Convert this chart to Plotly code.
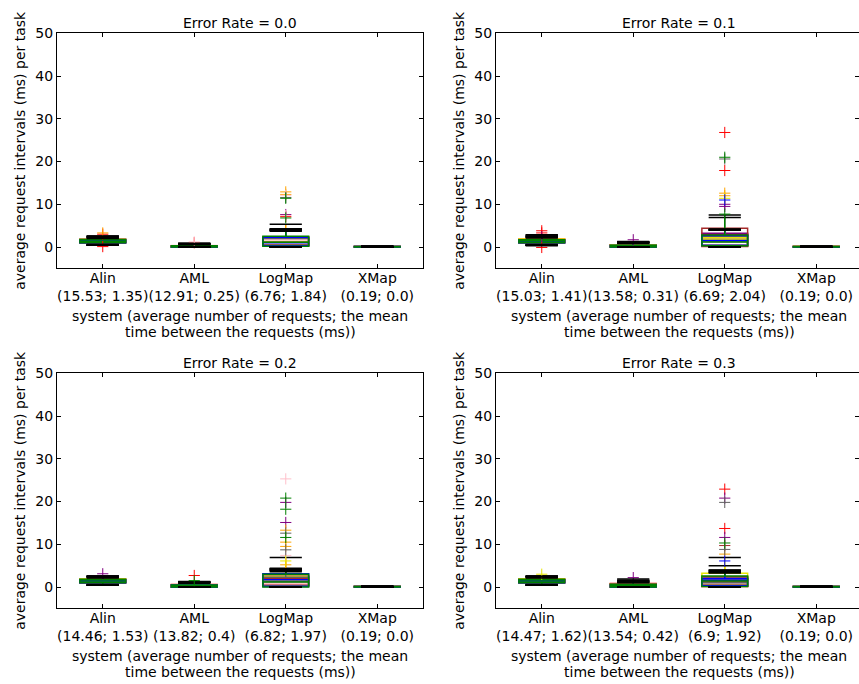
import plotly.graph_objects as go

# ---------------- data ----------------
SYSTEMS = ["Alin", "AML", "LogMap", "XMap"]
ERROR_RATES = ["0.0", "0.1", "0.2", "0.3"]
AVG_REQUESTS = [
    [15.53, 12.91, 6.76, 0.19],
    [15.03, 13.58, 6.69, 0.19],
    [14.46, 13.82, 6.82, 0.19],
    [14.47, 13.54, 6.9, 0.19],
]
MEAN_INTERVAL = [
    [1.35, 0.25, 1.84, 0.0],
    [1.41, 0.31, 2.04, 0.0],
    [1.53, 0.4, 1.97, 0.0],
    [1.62, 0.42, 1.92, 0.0],
]
Y_TICKS = [0, 10, 20, 30, 40, 50]

# tasks (one box per task and system), drawn in this order
TASK_COLORS = ["#ff0000", "#800080", "#ffa500", "#ffc0cb", "#a52a2a",
               "#e6e600", "#606060", "#0000ff", "#008000"]

# box statistics: [error rate][system][task]
Q1 = [
    [[1.1, 1.0, 1.2, 1.1, 1.0, 1.2, 1.1, 1.0, 1.0],
     [0.0, 0.0, 0.0, 0.0, 0.0, 0.0, 0.0, 0.0, 0.0],
     [0.4, 0.3, 0.4, 0.3, 0.4, 0.3, 0.4, 0.3, 0.2],
     [0.0, 0.0, 0.0, 0.0, 0.0, 0.0, 0.0, 0.0, 0.0]],
    [[1.1, 1.0, 1.2, 1.1, 1.0, 1.1, 1.1, 1.0, 1.0],
     [0.0, 0.0, 0.0, 0.0, 0.0, 0.0, 0.0, 0.0, 0.0],
     [0.3, 0.4, 0.3, 0.4, 0.1, 0.4, 0.3, 0.4, 0.3],
     [0.0, 0.0, 0.0, 0.0, 0.0, 0.0, 0.0, 0.0, 0.0]],
    [[1.1, 1.0, 1.2, 1.1, 1.0, 1.2, 1.1, 1.0, 1.0],
     [0.0, 0.0, 0.0, 0.0, 0.0, 0.0, 0.0, 0.0, 0.0],
     [0.5, 0.4, 0.3, 0.6, 0.4, 0.3, 0.3, 0.1, 0.0],
     [0.0, 0.0, 0.0, 0.0, 0.0, 0.0, 0.0, 0.0, 0.0]],
    [[1.1, 1.0, 1.2, 1.1, 1.0, 1.1, 1.1, 1.0, 1.0],
     [0.0, 0.0, 0.0, 0.0, 0.0, 0.0, 0.0, 0.0, 0.0],
     [0.1, 0.3, 0.4, 0.3, 0.2, 0.3, 0.4, 0.3, 0.1],
     [0.0, 0.0, 0.0, 0.0, 0.0, 0.0, 0.0, 0.0, 0.0]],
]
MEDIAN = [
    [[1.4, 1.3, 1.5, 1.4, 1.3, 1.4, 1.4, 1.3, 1.35],
     [0.1, 0.1, 0.15, 0.1, 0.1, 0.1, 0.1, 0.1, 0.1],
     [1.2, 1.1, 1.3, 1.0, 1.1, 1.2, 1.1, 1.0, 1.1],
     [0.05, 0.04, 0.05, 0.06, 0.05, 0.04, 0.05, 0.05, 0.05]],
    [[1.4, 1.4, 1.5, 1.4, 1.3, 1.5, 1.4, 1.3, 1.4],
     [0.2, 0.15, 0.2, 0.1, 0.15, 0.2, 0.1, 0.15, 0.15],
     [1.5, 1.3, 1.6, 1.2, 1.8, 1.8, 1.4, 1.5, 1.2],
     [0.05, 0.05, 0.04, 0.05, 0.06, 0.05, 0.05, 0.04, 0.05]],
    [[1.5, 1.4, 1.5, 1.4, 1.3, 1.5, 1.4, 1.4, 1.4],
     [0.25, 0.2, 0.2, 0.15, 0.2, 0.2, 0.15, 0.2, 0.2],
     [1.8, 1.6, 1.4, 0.9, 2.0, 1.5, 1.3, 1.7, 1.2],
     [0.05, 0.05, 0.05, 0.04, 0.05, 0.06, 0.05, 0.05, 0.05]],
    [[1.5, 1.4, 1.5, 1.4, 1.4, 1.5, 1.4, 1.4, 1.4],
     [0.3, 0.2, 0.25, 0.2, 0.3, 0.2, 0.25, 0.2, 0.2],
     [0.5, 1.5, 1.3, 0.8, 1.2, 1.8, 1.0, 1.6, 1.4],
     [0.05, 0.04, 0.05, 0.05, 0.05, 0.05, 0.06, 0.05, 0.05]],
]
Q3 = [
    [[1.7, 1.8, 1.8, 1.7, 1.6, 1.7, 1.7, 1.6, 1.75],
     [0.3, 0.25, 0.3, 0.35, 0.2, 0.3, 0.25, 0.2, 0.3],
     [2.2, 2.0, 2.4, 1.7, 2.1, 2.2, 2.0, 2.3, 2.5],
     [0.1, 0.08, 0.1, 0.12, 0.1, 0.09, 0.1, 0.1, 0.1]],
    [[1.8, 1.7, 1.8, 1.7, 1.6, 1.8, 1.7, 1.6, 1.7],
     [0.55, 0.4, 0.45, 0.35, 0.4, 0.45, 0.3, 0.35, 0.4],
     [3.0, 3.2, 2.6, 2.2, 4.4, 2.3, 2.5, 2.7, 2.8],
     [0.1, 0.1, 0.08, 0.1, 0.12, 0.1, 0.1, 0.09, 0.1]],
    [[1.8, 1.7, 1.8, 1.7, 1.6, 1.8, 1.7, 1.7, 1.8],
     [0.6, 0.5, 0.55, 0.45, 0.5, 0.5, 0.4, 0.45, 0.5],
     [2.4, 2.6, 2.2, 1.2, 2.2, 2.5, 2.3, 3.1, 3.0],
     [0.1, 0.1, 0.1, 0.08, 0.1, 0.12, 0.1, 0.1, 0.1]],
    [[1.8, 1.7, 1.9, 1.7, 1.7, 1.8, 1.7, 1.7, 1.8],
     [0.8, 0.6, 0.7, 0.5, 0.7, 0.6, 0.65, 0.5, 0.6],
     [1.6, 2.3, 2.2, 1.5, 2.4, 3.2, 2.0, 2.0, 2.6],
     [0.1, 0.08, 0.1, 0.1, 0.1, 0.1, 0.12, 0.1, 0.1]],
]
WHISKER_LOW = [
    [[0.5, 0.4, 0.6, 0.5, 0.4, 0.6, 0.5, 0.4, 0.4],
     [0.0, 0.0, 0.0, 0.0, 0.0, 0.0, 0.0, 0.0, 0.0],
     [0.0, 0.0, 0.0, 0.0, 0.0, 0.0, 0.0, 0.0, 0.0],
     [0.0, 0.0, 0.0, 0.0, 0.0, 0.0, 0.0, 0.0, 0.0]],
    [[0.4, 0.5, 0.6, 0.4, 0.4, 0.3, 0.5, 0.4, 0.5],
     [0.0, 0.0, 0.0, 0.0, 0.0, 0.0, 0.0, 0.0, 0.0],
     [0.0, 0.0, 0.0, 0.0, 0.0, 0.0, 0.0, 0.0, 0.0],
     [0.0, 0.0, 0.0, 0.0, 0.0, 0.0, 0.0, 0.0, 0.0]],
    [[0.5, 0.4, 0.6, 0.5, 0.4, 0.5, 0.5, 0.4, 0.4],
     [0.0, 0.0, 0.0, 0.0, 0.0, 0.0, 0.0, 0.0, 0.0],
     [0.0, 0.0, 0.0, 0.0, 0.0, 0.0, 0.0, 0.0, 0.0],
     [0.0, 0.0, 0.0, 0.0, 0.0, 0.0, 0.0, 0.0, 0.0]],
    [[0.5, 0.4, 0.6, 0.5, 0.4, 0.5, 0.5, 0.4, 0.5],
     [0.0, 0.0, 0.0, 0.0, 0.0, 0.0, 0.0, 0.0, 0.0],
     [0.0, 0.0, 0.0, 0.0, 0.0, 0.0, 0.0, 0.0, 0.0],
     [0.0, 0.0, 0.0, 0.0, 0.0, 0.0, 0.0, 0.0, 0.0]],
]
WHISKER_HIGH = [
    [[2.3, 2.1, 2.6, 2.4, 2.2, 2.5, 2.3, 2.0, 2.5],
     [0.7, 0.6, 0.9, 0.8, 0.6, 0.7, 0.7, 0.6, 0.8],
     [4.2, 3.8, 5.3, 4.0, 4.3, 3.7, 4.1, 3.9, 4.0],
     [0.15, 0.12, 0.15, 0.18, 0.15, 0.14, 0.15, 0.15, 0.15]],
    [[2.6, 2.2, 2.8, 2.4, 2.3, 2.9, 2.5, 2.1, 2.6],
     [1.3, 1.0, 1.2, 0.9, 1.1, 1.2, 0.8, 1.0, 1.1],
     [4.1, 4.0, 4.2, 3.9, 4.1, 4.0, 6.9, 4.0, 7.5],
     [0.15, 0.15, 0.12, 0.15, 0.18, 0.15, 0.15, 0.14, 0.15]],
    [[2.5, 2.6, 2.4, 2.3, 2.2, 2.5, 2.4, 2.1, 2.6],
     [1.2, 1.1, 1.3, 1.0, 1.1, 1.2, 0.9, 1.0, 1.2],
     [4.4, 4.2, 6.9, 3.6, 4.0, 4.3, 3.9, 4.1, 3.8],
     [0.15, 0.15, 0.15, 0.12, 0.15, 0.18, 0.15, 0.15, 0.15]],
    [[2.5, 2.4, 2.3, 2.6, 2.2, 2.5, 2.4, 2.1, 2.5],
     [1.6, 1.3, 1.4, 1.1, 1.5, 1.2, 1.9, 1.0, 1.3],
     [3.9, 4.0, 5.0, 3.4, 3.8, 6.9, 3.6, 3.5, 3.3],
     [0.15, 0.12, 0.15, 0.15, 0.15, 0.15, 0.18, 0.15, 0.15]],
]

# outliers: [error rate] -> list of (system index, task index, value)
OUTLIERS = [
    [(0, 0, 3.0), (0, 0, 0.1), (0, 2, 3.3), (1, 3, 1.2), (1, 0, 1.0),
     (2, 2, 12.9), (2, 2, 12.3), (2, 3, 12.1), (2, 6, 11.6), (2, 8, 11.4),
     (2, 1, 7.6), (2, 3, 7.4), (2, 0, 7.1), (2, 8, 6.8)],
    [(0, 0, 3.8), (0, 0, 3.3), (0, 1, 2.4), (0, 0, -0.1), (1, 1, 1.7),
     (2, 0, 26.8), (2, 8, 21.0), (2, 6, 20.6), (2, 0, 17.9), (2, 2, 12.6),
     (2, 2, 12.0), (2, 5, 11.4), (2, 7, 11.0), (2, 1, 10.0), (2, 1, 9.5),
     (2, 8, 7.7)],
    [(0, 1, 3.1), (1, 0, 2.7), (1, 8, 1.5),
     (2, 3, 25.3), (2, 8, 20.8), (2, 1, 19.8), (2, 8, 18.2), (2, 1, 15.1),
     (2, 2, 13.3), (2, 6, 12.6), (2, 8, 11.6), (2, 2, 10.5), (2, 2, 9.5),
     (2, 6, 8.7), (2, 3, 7.4), (2, 5, 6.1), (2, 2, 5.2)],
    [(0, 5, 3.0), (1, 1, 2.2),
     (2, 0, 22.9), (2, 1, 20.8), (2, 6, 19.8), (2, 0, 13.7), (2, 1, 11.6),
     (2, 8, 10.3), (2, 4, 9.7), (2, 6, 8.8), (2, 2, 7.7), (2, 7, 6.1)],
]

Y_TITLE = "average request intervals (ms) per task"
X_TITLE_LINES = ["system (average number of requests; the mean",
                 "time between the requests (ms))"]

# ---------------- layout geometry (reference pixels) ----------------
W, H = 859, 684
FONT = "DejaVu Sans"
TXT = 14
TICK_TXT = 14
PX_PER_UNIT = 91.5
panels = [
    dict(x0=57, x1=423, y0=33.3, y1=268.4),
    dict(x0=496, x1=859, y0=33.3, y1=268.4),
    dict(x0=57, x1=423, y0=373.3, y1=608.4),
    dict(x0=496, x1=859, y0=373.3, y1=608.4),
]


def px_x(v):
    return v / W


def px_y(v):
    return 1 - v / H


fig = go.Figure()
layout = dict(
    width=W, height=H, margin=dict(l=0, r=0, t=0, b=0),
    paper_bgcolor="white", plot_bgcolor="white", showlegend=False,
    boxmode="overlay", font=dict(family=FONT, size=TXT, color="black"),
    annotations=[],
)

for p, geom in enumerate(panels):
    sfx = "" if p == 0 else str(p + 1)
    xref, yref = "x" + sfx, "y" + sfx
    xmax = 0.5 + (geom["x1"] - geom["x0"]) / PX_PER_UNIT
    ticktext = [f"{s}<br>({a}; {m})" for s, a, m in
                zip(SYSTEMS, AVG_REQUESTS[p], MEAN_INTERVAL[p])]
    positions = list(range(1, len(SYSTEMS) + 1))
    for t, col in enumerate(TASK_COLORS):
        fig.add_trace(go.Box(
            x=positions,
            q1=[Q1[p][s][t] for s in range(len(SYSTEMS))],
            median=[MEDIAN[p][s][t] for s in range(len(SYSTEMS))],
            q3=[Q3[p][s][t] for s in range(len(SYSTEMS))],
            lowerfence=[WHISKER_LOW[p][s][t] for s in range(len(SYSTEMS))],
            upperfence=[WHISKER_HIGH[p][s][t] for s in range(len(SYSTEMS))],
            width=0.5, whiskerwidth=0, boxpoints=False,
            line=dict(color=col, width=1.5), fillcolor="rgba(0,0,0,0)",
            xaxis=xref, yaxis=yref, hoverinfo="skip",
        ))
        # black whisker caps
        cx, cy = [], []
        for s in range(len(SYSTEMS)):
            cx += [positions[s], positions[s]]
            cy += [WHISKER_LOW[p][s][t], WHISKER_HIGH[p][s][t]]
        fig.add_trace(go.Scatter(
            x=cx, y=cy, mode="markers", xaxis=xref, yaxis=yref,
            marker=dict(symbol="line-ew", size=23, color="black",
                        line=dict(color="black", width=1.5)),
            hoverinfo="skip",
        ))
        ox = [positions[s] for (s, tt, v) in OUTLIERS[p] if tt == t]
        oy = [v for (s, tt, v) in OUTLIERS[p] if tt == t]
        if ox:
            fig.add_trace(go.Scatter(
                x=ox, y=oy, mode="markers", xaxis=xref, yaxis=yref,
                marker=dict(symbol="cross-thin", size=8, color=col,
                            line=dict(color=col, width=1)),
                hoverinfo="skip",
            ))

    axis_common = dict(showline=True, linecolor="black", linewidth=1,
                       mirror="ticks", ticks="inside", ticklen=4,
                       tickcolor="black", showgrid=False, zeroline=False,
                       tickfont=dict(family=FONT, size=TICK_TXT,
                                     color="black"))
    layout["xaxis" + sfx] = dict(
        domain=[px_x(geom["x0"]), min(1.0, px_x(geom["x1"]))],
        range=[0.5, xmax], tickmode="array", tickvals=positions,
        ticktext=ticktext, tickangle=0, anchor=yref, automargin=False,
        ticklabelstandoff=-3, fixedrange=True, **axis_common)
    layout["yaxis" + sfx] = dict(
        domain=[px_y(geom["y1"]), px_y(geom["y0"])], range=[-5, 50],
        tickmode="array", tickvals=Y_TICKS, anchor=xref, automargin=False,
        fixedrange=True, **axis_common)

    cx_px = geom["x0"] + 183
    ann_font = dict(family=FONT, size=TXT, color="black")
    layout["annotations"] += [
        dict(text=f"Error Rate = {ERROR_RATES[p]}", x=px_x(cx_px),
             y=px_y(geom["y0"] - 10.5), xref="paper", yref="paper",
             xanchor="center", yanchor="middle", showarrow=False,
             font=ann_font),
        dict(text=X_TITLE_LINES[0], x=px_x(cx_px), y=px_y(geom["y1"] + 48),
             xref="paper", yref="paper", xanchor="center", yanchor="middle",
             showarrow=False, font=ann_font),
        dict(text=X_TITLE_LINES[1], x=px_x(cx_px), y=px_y(geom["y1"] + 64),
             xref="paper", yref="paper", xanchor="center", yanchor="middle",
             showarrow=False, font=ann_font),
        dict(text=Y_TITLE, x=px_x(geom["x0"] - 37),
             y=px_y((geom["y0"] + geom["y1"]) / 2), xref="paper",
             yref="paper", xanchor="center", yanchor="middle", textangle=-90,
             showarrow=False, font=ann_font),
    ]

fig.update_layout(**layout)
# let the figure fill the window exactly (no default 8px page margin)
fig.write_html(
    "out.html",
    config={"displayModeBar": False, "staticPlot": True},
    post_script="document.body.style.margin='0';"
                "document.body.style.overflow='hidden';",
)
